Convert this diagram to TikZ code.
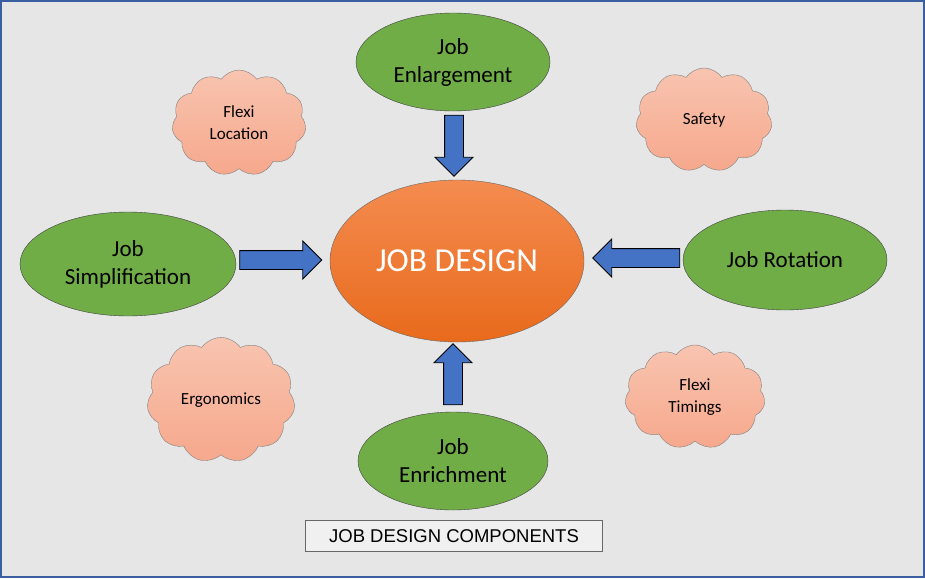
\documentclass[tikz,border=0pt]{standalone}
\usepackage{fontspec}
\setmainfont{Carlito}
\newfontfamily\captionfont{Liberation Sans}
\usetikzlibrary{positioning,shapes.geometric,shapes.symbols,shapes.arrows}
\definecolor{PageGray}{RGB}{230,230,230}
\definecolor{FrameBlue}{RGB}{58,95,160}
\definecolor{LeafGreen}{RGB}{112,173,71}
\definecolor{CoreTop}{RGB}{244,140,80}
\definecolor{CoreBottom}{RGB}{232,106,28}
\definecolor{PuffTop}{RGB}{248,196,176}
\definecolor{PuffBottom}{RGB}{246,168,140}
\definecolor{ArrowBlue}{RGB}{68,114,196}
\tikzset{
  topic/.style={ellipse,draw=black!75,fill=LeafGreen,inner sep=0pt,align=center,
    font=\fontsize{23}{28}\selectfont},
  core/.style={ellipse,draw=black!60,top color=CoreTop,bottom color=CoreBottom,
    text=white,inner sep=0pt,font=\fontsize{33.5}{38}\selectfont},
  puff/.style={cloud,cloud puffs=11,cloud puff arc=110,draw=black!50,
    top color=PuffTop,bottom color=PuffBottom,inner sep=0pt,align=center,
    font=\fontsize{17}{22}\selectfont},
  flow/.style={single arrow,draw=black,fill=ArrowBlue,line width=0.8pt,
    inner xsep=0pt,inner ysep=9pt,minimum width=37pt,minimum height=61pt,
    single arrow head extend=9.5pt,single arrow head indent=0pt},
}
\begin{document}
\begin{tikzpicture}[x=1pt,y=-1pt]
        % page and frame
        \useasboundingbox (0,0) rectangle (925,578);
        \draw[FrameBlue,line width=2pt,fill=PageGray] (1,1) rectangle (924,577);
        % centre
        \node[core,minimum width=254pt,minimum height=162pt] (design) at (457,261) {JOB DESIGN};
        % components
        \node[topic,minimum width=194pt,minimum height=98pt] (enlarge) at (453,62) {Job\\Enlargement};
        \node[topic,minimum width=216pt,minimum height=104pt] (simplify) at (128,264) {Job\\Simplification};
        \node[topic,minimum width=204pt,minimum height=100pt] (rotate) at (785,260) {Job Rotation};
        \node[topic,minimum width=190pt,minimum height=98pt] (enrich) at (453,461) {Job\\Enrichment};
        % arrows into the centre
        \node[flow,rotate=-90] (fromtop) at (454,141) {};
        \node[flow,rotate=0,minimum height=82pt] (fromleft) at (276,260) {};
        \node[flow,rotate=180,minimum height=87pt] (fromright) at (641,258) {};
        \node[flow,rotate=90] (frombottom) at (453,379) {};
        % clouds
        \node[puff,minimum width=134pt,minimum height=106pt] (location) at (239,123) {Flexi\\Location};
        \node[puff,minimum width=136pt,minimum height=104pt] (safety) at (704,120) {Safety};
        \node[puff,minimum width=148pt,minimum height=104pt] (ergo) at (221,400) {Ergonomics};
        \node[puff,minimum width=140pt,minimum height=104pt] (timings) at (695,397) {Flexi\\Timings};
        % caption
        \node[draw=black!60,fill=PageGray!60!white,minimum width=297pt,minimum height=31pt,
          font=\captionfont\fontsize{18.5}{22}\selectfont] (caption) at (454,536) {JOB DESIGN COMPONENTS};
\end{tikzpicture}
\end{document}
